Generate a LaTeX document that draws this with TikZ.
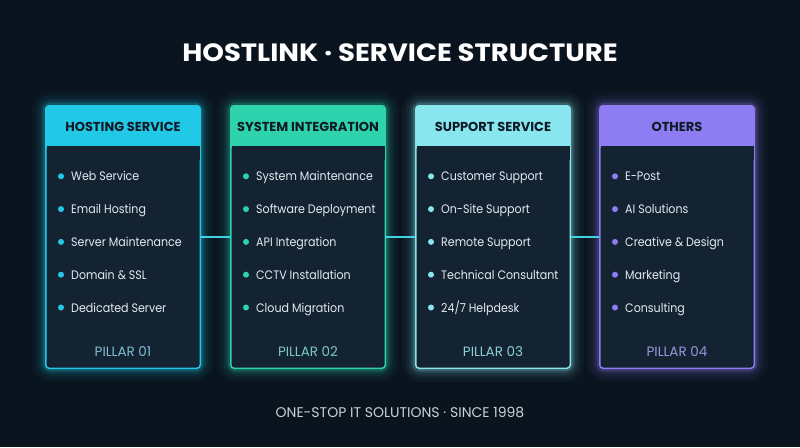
\documentclass[tikz,border=0pt]{standalone}
\usepackage{fontspec}
\setmainfont{Poppins}
\newfontfamily\itemfont{Poppins}[FakeStretch=0.9]
\newfontfamily\titlefont{Poppins}[FakeStretch=1.1]
\definecolor{bg}{HTML}{0A141E}
\definecolor{body}{HTML}{142332}
\definecolor{dark}{HTML}{0E1A26}
\definecolor{cA}{HTML}{22C9E6}
\definecolor{cB}{HTML}{2ED3AE}
\definecolor{cC}{HTML}{88E6EF}
\definecolor{cD}{HTML}{8E7DF2}
\definecolor{pA}{HTML}{7DBDD0}
\definecolor{pB}{HTML}{7CC9BC}
\definecolor{pC}{HTML}{8CCFD8}
\definecolor{pD}{HTML}{9A94DA}
\definecolor{itemtxt}{HTML}{E4EAF0}
\definecolor{foot}{HTML}{C9D1D9}
\definecolor{link}{HTML}{3FD3E6}
\tikzset{
  cardbox/.style={minimum width=156pt,minimum height=264pt,inner sep=0pt,draw=none},
  headtxt/.style={text=dark,font=\fontsize{13}{15}\selectfont\bfseries},
  itemnode/.style={anchor=base west,text=itemtxt,font=\itemfont\fontsize{12.3}{14}\selectfont,inner sep=0pt},
  pillartxt/.style={anchor=base,font=\fontsize{13.5}{15}\selectfont,inner sep=0pt},
  linkline/.style={draw=link,line width=1.6pt},
}
\begin{document}
\begin{tikzpicture}[x=1pt,y=-1pt]
\fill[bg] (0,0) rectangle (800,447);
\useasboundingbox (0,0) rectangle (800,447);

\node[text=white,font=\titlefont\fontsize{25}{28}\selectfont\bfseries,anchor=base] (title) at (400,61) {HOSTLINK · SERVICE STRUCTURE};
\node[text=foot,font=\fontsize{14}{16}\selectfont,anchor=base] (footer) at (400,417) {ONE-STOP IT SOLUTIONS · SINCE 1998};

\foreach \n/\x/\c/\p/\t/\pl/\ia/\ib/\ic/\id/\ie in {
  cardA/45/cA/pA/HOSTING SERVICE/PILLAR 01/Web Service/Email Hosting/Server Maintenance/Domain \& SSL/Dedicated Server,
  cardB/230/cB/pB/SYSTEM INTEGRATION/PILLAR 02/System Maintenance/Software Deployment/API Integration/CCTV Installation/Cloud Migration,
  cardC/415/cC/pC/SUPPORT SERVICE/PILLAR 03/Customer Support/On-Site Support/Remote Support/Technical Consultant/{24/7 Helpdesk},
  cardD/599/cD/pD/OTHERS/PILLAR 04/E-Post/AI Solutions/Creative \& Design/Marketing/Consulting}{
  \foreach \w/\o in {26/0.035,19/0.05,13/0.07,8/0.11,4.5/0.18}{
    \draw[\c,line width=\w pt,opacity=\o,rounded corners=6pt] (\x,105) rectangle ++(156,264);
  }
  \node[cardbox] (\n) at (\x+78,237) {};
  \fill[\c,rounded corners=4pt] (\x,105) rectangle ++(156,264);
  \fill[body,rounded corners=3pt] (\x+1.5,146) rectangle (\x+154.5,367.5);
  \fill[body] (\x+1.5,146) rectangle (\x+154.5,160);
  \node[headtxt] (\n-head) at (\x+78,126.5) {\t};
  \foreach \it [count=\k] in {\ia,\ib,\ic,\id,\ie}{
    \fill[\c] (\x+16,143.5+\k*32.8) circle (3pt);
    \node[itemnode] (\n-item\k) at (\x+26,148+\k*32.8) {\it};
  }
  \node[pillartxt,text=\p] (\n-pillar) at (\x+78,356) {\pl};
}
\draw[linkline] (cardA.east) -- (cardB.west);
\draw[linkline] (cardB.east) -- (cardC.west);
\draw[linkline] (cardC.east) -- (cardD.west);
\end{tikzpicture}
\end{document}
